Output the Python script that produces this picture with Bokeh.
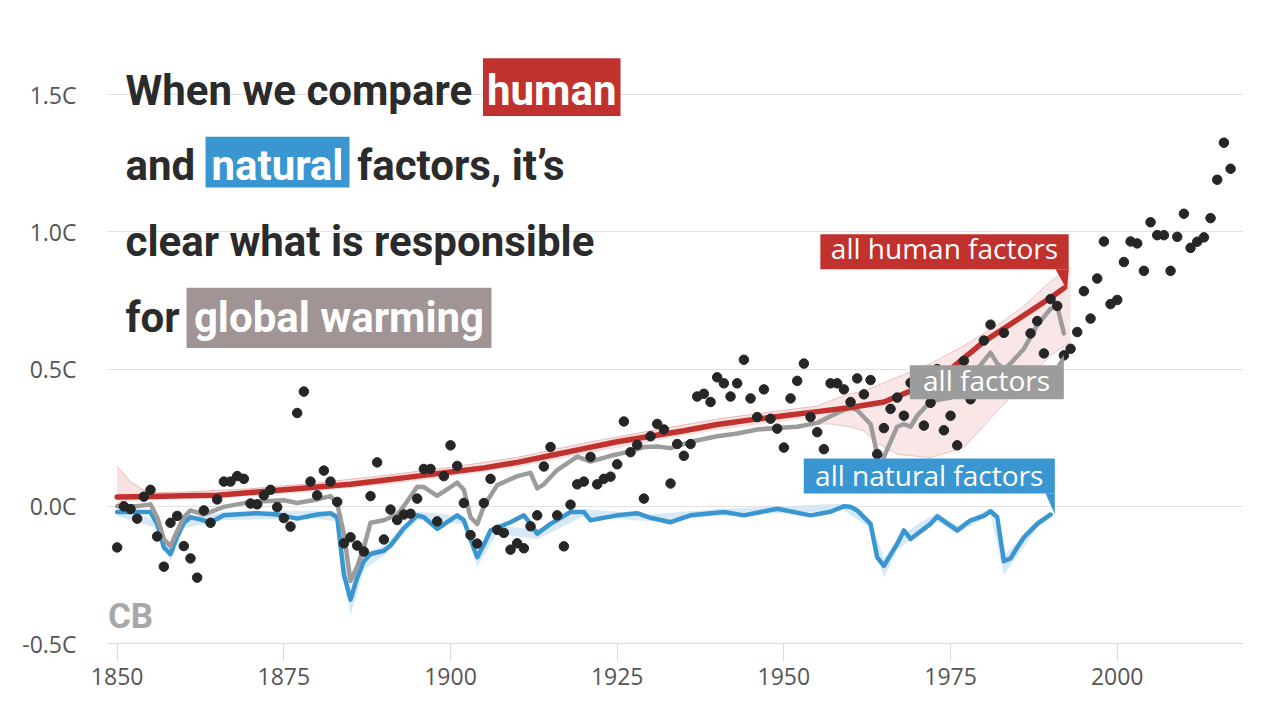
from bokeh.plotting import figure
from bokeh.models import Label, BoxAnnotation, PolyAnnotation, Range1d
from bokeh.embed import file_html
from bokeh.resources import INLINE

# ---------------- data ----------------
obs_years = list(range(1850, 2018))
obs_values = [
    -0.15, 0.00, -0.01, -0.045, 0.035, 0.06, -0.11, -0.22, -0.06, -0.035,      # 1850-1859
    -0.145, -0.19, -0.26, -0.015, -0.06, 0.025, 0.09, 0.09, 0.11, 0.10,        # 1860-1869
    0.01, 0.007, 0.04, 0.06, -0.003, -0.043, -0.074, 0.34, 0.418, 0.09,        # 1870-1879
    0.04, 0.13, 0.09, 0.016, -0.135, -0.113, -0.143, -0.165, 0.037, 0.16,      # 1880-1889
    -0.121, -0.012, -0.05, -0.03, -0.027, 0.028, 0.136, 0.136, -0.055, 0.11,   # 1890-1899
    0.222, 0.147, 0.012, -0.105, -0.136, 0.012, 0.10, -0.086, -0.097, -0.158,  # 1900-1909
    -0.135, -0.153, -0.073, -0.033, 0.145, 0.216, -0.033, -0.146, 0.006, 0.08, # 1910-1919
    0.09, 0.18, 0.08, 0.10, 0.108, 0.153, 0.309, 0.197, 0.224, 0.028,          # 1920-1929
    0.255, 0.30, 0.28, 0.083, 0.227, 0.184, 0.227, 0.40, 0.41, 0.38,           # 1930-1939
    0.47, 0.448, 0.40, 0.448, 0.534, 0.393, 0.325, 0.426, 0.319, 0.283,        # 1940-1949
    0.214, 0.393, 0.457, 0.52, 0.325, 0.27, 0.208, 0.448, 0.448, 0.426,        # 1950-1959
    0.38, 0.466, 0.408, 0.46, 0.19, 0.285, 0.355, 0.396, 0.33, 0.45,           # 1960-1969
    0.42, 0.294, 0.377, 0.50, 0.277, 0.33, 0.222, 0.53, 0.39, 0.47,            # 1970-1979
    0.604, 0.662, 0.44, 0.632, 0.47, 0.42, 0.49, 0.63, 0.675, 0.557,           # 1980-1989
    0.755, 0.73, 0.55, 0.574, 0.635, 0.784, 0.684, 0.83, 0.965, 0.737,         # 1990-1999
    0.752, 0.89, 0.965, 0.958, 0.858, 1.035, 0.988, 0.988, 0.858, 0.982,       # 2000-2009
    1.066, 0.942, 0.964, 0.98, 1.05, 1.19, 1.325, 1.23,                        # 2010-2017
]

human_years = [1850, 1855, 1860, 1865, 1870, 1875, 1880, 1885, 1890, 1895, 1900, 1905,
               1910, 1915, 1920, 1925, 1930, 1935, 1940, 1945, 1950, 1955, 1960, 1965,
               1970, 1975, 1980, 1985, 1990, 1992]
human_values = [0.034, 0.036, 0.038, 0.04, 0.05, 0.06, 0.07, 0.08, 0.095, 0.11, 0.125, 0.14,
                0.16, 0.185, 0.21, 0.235, 0.255, 0.275, 0.298, 0.315, 0.33, 0.345, 0.36, 0.38,
                0.43, 0.50, 0.60, 0.68, 0.76, 0.795]

human_band_years = [1850, 1852, 1854, 1856, 1860, 1870, 1880, 1890, 1900, 1910, 1920,
                    1930, 1940, 1950, 1955]
human_band_low = [0.005, 0.018, 0.022, 0.024, 0.026, 0.036, 0.055, 0.078, 0.108, 0.142, 0.19,
                  0.235, 0.278, 0.31, 0.325]
human_band_high = [0.145, 0.09, 0.058, 0.05, 0.052, 0.064, 0.085, 0.112, 0.142, 0.178, 0.23,
                   0.275, 0.318, 0.35, 0.365]

all_band_years = [1955, 1957, 1960, 1962, 1964, 1967, 1972, 1977, 1982, 1986, 1990, 1993]
all_band_low = [0.30, 0.30, 0.29, 0.275, 0.23, 0.19, 0.177, 0.214, 0.347, 0.45, 0.55, 0.60]
all_band_high = [0.365, 0.385, 0.41, 0.42, 0.44, 0.47, 0.52, 0.585, 0.66, 0.73, 0.82, 0.87]

all_years = [1850, 1853, 1855, 1856, 1857, 1858, 1859, 1860, 1861, 1863, 1866, 1870, 1875,
             1877, 1880, 1882, 1883, 1884, 1885, 1886, 1887, 1888, 1890, 1892, 1893, 1895,
             1896, 1898, 1900, 1901, 1902, 1903, 1904, 1905, 1907, 1910, 1912, 1913, 1914,
             1916, 1919, 1921, 1924, 1927, 1929, 1931, 1933, 1936, 1940, 1943, 1946, 1949,
             1952, 1955, 1958, 1960, 1961, 1963, 1964, 1965, 1967, 1968, 1969, 1970, 1972,
             1975, 1977, 1979, 1981, 1982, 1983, 1984, 1986, 1988, 1990, 1991, 1992]
all_values = [0.0, 0.0, 0.007, -0.04, -0.12, -0.145, -0.09, -0.04, -0.015, -0.03, -0.002,
              0.016, 0.022, 0.012, 0.025, 0.037, 0.01, -0.1, -0.272, -0.22, -0.15, -0.06,
              -0.051, -0.03, 0.0, 0.071, 0.07, 0.038, 0.07, 0.086, 0.06, -0.04, -0.065, 0.0,
              0.077, 0.11, 0.122, 0.065, 0.08, 0.132, 0.181, 0.163, 0.184, 0.2, 0.216, 0.218,
              0.212, 0.235, 0.255, 0.265, 0.28, 0.285, 0.29, 0.304, 0.34, 0.36, 0.35, 0.30,
              0.19, 0.18, 0.29, 0.30, 0.29, 0.33, 0.383, 0.396, 0.43, 0.50, 0.56, 0.52, 0.50,
              0.52, 0.574, 0.66, 0.72, 0.73, 0.63]

natural_years = [1850, 1855, 1856, 1857, 1858, 1859, 1860, 1861, 1862, 1864, 1866, 1871,
                 1874, 1877, 1880, 1882, 1883, 1884, 1885, 1886, 1887, 1888, 1890, 1891,
                 1893, 1895, 1896, 1898, 1901, 1902, 1903, 1904, 1905, 1906, 1909, 1911,
                 1912, 1913, 1915, 1918, 1920, 1921, 1925, 1928, 1930, 1933, 1936, 1941,
                 1944, 1949, 1954, 1957, 1959, 1960, 1961, 1963, 1964, 1965, 1967, 1968,
                 1969, 1972, 1973, 1976, 1978, 1980, 1981, 1982, 1983, 1984, 1985, 1986,
                 1988, 1990]
natural_values = [-0.021, -0.021, -0.064, -0.15, -0.174, -0.11, -0.06, -0.04, -0.045, -0.058,
                  -0.033, -0.025, -0.03, -0.045, -0.03, -0.025, -0.04, -0.248, -0.34, -0.26,
                  -0.2, -0.174, -0.162, -0.143, -0.08, -0.033, -0.04, -0.082, -0.033, -0.051,
                  -0.12, -0.185, -0.14, -0.088, -0.058, -0.033, -0.064, -0.1, -0.064, -0.021,
                  -0.021, -0.051, -0.033, -0.025, -0.042, -0.058, -0.033, -0.021, -0.033,
                  -0.009, -0.033, -0.02, 0.0, -0.002, -0.015, -0.064, -0.186, -0.217, -0.137,
                  -0.088, -0.119, -0.064, -0.037, -0.088, -0.051, -0.035, -0.018, -0.04, -0.2,
                  -0.19, -0.15, -0.113, -0.064, -0.03]

natural_band_years = [1850, 1856, 1858, 1860, 1866, 1880, 1883, 1885, 1887, 1890, 1895, 1902,
                      1904, 1907, 1913, 1920, 1930, 1940, 1950, 1959, 1963, 1965, 1967, 1970,
                      1973, 1976, 1981, 1983, 1985, 1988, 1990]
natural_band_low = [-0.035, -0.08, -0.20, -0.08, -0.05, -0.045, -0.055, -0.40, -0.23, -0.18,
                    -0.05, -0.065, -0.22, -0.10, -0.12, -0.035, -0.055, -0.035, -0.025, -0.015,
                    -0.08, -0.26, -0.16, -0.10, -0.055, -0.10, -0.03, -0.25, -0.18, -0.08, -0.04]
natural_band_high = [-0.01, -0.05, -0.155, -0.045, -0.02, -0.015, -0.025, -0.30, -0.17, -0.145,
                     -0.02, -0.035, -0.165, -0.07, -0.085, -0.01, -0.03, -0.01, 0.0, 0.01,
                     -0.05, -0.19, -0.12, -0.065, -0.025, -0.07, -0.005, -0.18, -0.13, -0.05,
                     -0.02]

x_ticks = [1850, 1875, 1900, 1925, 1950, 1975, 2000]
x_tick_labels = ["1850", "1875", "1900", "1925", "1950", "1975", "2000"]
y_ticks = [-0.5, 0.0, 0.5, 1.0, 1.5]
y_tick_labels = ["-0.5C", "0.0C", "0.5C", "1.0C", "1.5C"]

# ---------------- styles ----------------
RED = "#c1312d"
BLUE = "#3a96d0"
GRAY = "#9c9c9c"
TITLE_GRAY_BOX = "#a09494"
DARK = "#2b2b2b"
TITLE_FONT = "Roboto"
NOTE_FONT = "Open Sans"
PX = 1.0 / 274.4   # one pixel in data units (vertical)

p = figure(frame_width=1136, frame_height=590, title=None,
           x_range=Range1d(1848.55, 2018.94), y_range=Range1d(-0.5, 1.65),
           output_backend="svg", toolbar_location=None,
           min_border_left=107, min_border_right=20, min_border_top=53, min_border_bottom=50,
           outline_line_color=None, background_fill_color="white", border_fill_color="white")

p.xgrid.grid_line_color = None
p.ygrid.grid_line_color = "#e2e2e2"
p.ygrid.grid_line_width = 1
p.ygrid.ticker = y_ticks

p.xaxis.ticker = x_ticks
p.xaxis.major_label_overrides = {t: l for t, l in zip(x_ticks, x_tick_labels)}
p.xaxis.axis_line_color = "#dcdcdc"
p.xaxis.major_tick_line_color = "#dcdcdc"
p.xaxis.major_tick_out = 18
p.xaxis.major_tick_in = 0
p.xaxis.minor_tick_line_color = None
p.xaxis.major_label_standoff = 6
p.xaxis.major_label_text_font = NOTE_FONT
p.xaxis.major_label_text_font_size = "23px"
p.xaxis.major_label_text_color = "#555555"

p.yaxis.ticker = y_ticks
p.yaxis.major_label_overrides = {t: l for t, l in zip(y_ticks, y_tick_labels)}
p.yaxis.axis_line_color = None
p.yaxis.major_tick_line_color = None
p.yaxis.minor_tick_line_color = None
p.yaxis.major_label_standoff = 25
p.yaxis.major_label_text_font = NOTE_FONT
p.yaxis.major_label_text_font_size = "23px"
p.yaxis.major_label_text_color = "#555555"

# bands
p.varea(x=human_band_years, y1=human_band_low, y2=human_band_high, fill_color="#f7dede", fill_alpha=0.9)
p.line(human_band_years, human_band_high, line_color="#e9b9b9", line_width=1)
p.varea(x=all_band_years, y1=all_band_low, y2=all_band_high, fill_color="#f7dede", fill_alpha=0.75)
p.line(all_band_years, all_band_low, line_color="#ebc3c3", line_width=1)
p.line(all_band_years, all_band_high, line_color="#ebc3c3", line_width=1)
p.varea(x=natural_band_years, y1=natural_band_low, y2=natural_band_high, fill_color="#d3e6f5", fill_alpha=0.9)

# model lines
p.line(natural_years, natural_values, line_color=BLUE, line_width=4.5, line_join="round", line_cap="round")
p.line(all_years, all_values, line_color=GRAY, line_width=4.5, line_join="round", line_cap="round")
p.line(human_years, human_values, line_color=RED, line_width=5.5, line_join="round", line_cap="round")

# observations
p.scatter(obs_years, obs_values, size=9.5, fill_color="#262626", line_color="#262626")

# ---------------- title with highlighted words ----------------
TSIZE = "42px"
TSHIFT = 15 * PX

def tlabel(x, y, text, color=DARK, align="left"):
    p.add_layout(Label(x=x, y=y + TSHIFT, text=text, text_font=TITLE_FONT, text_font_size=TSIZE,
                       text_font_style="bold", text_color=color, text_align=align,
                       text_baseline="alphabetic"))

p.add_layout(BoxAnnotation(left=1904.87, right=1925.5, bottom=1.4227, top=1.633,
                           fill_color=RED, fill_alpha=1, line_color=None))
p.add_layout(BoxAnnotation(left=1863.25, right=1884.85, bottom=1.1614, top=1.3462,
                           fill_color=BLUE, fill_alpha=1, line_color=None))
p.add_layout(BoxAnnotation(left=1860.4, right=1906.14, bottom=0.577, top=0.796,
                           fill_color=TITLE_GRAY_BOX, fill_alpha=1, line_color=None))

tlabel(1851.25, 1.4613, "When we compare")
tlabel(1915.19, 1.4613, "human", color="white", align="center")
tlabel(1851.25, 1.1859, "and")
tlabel(1874.04, 1.1859, "natural", color="white", align="center")
tlabel(1886.0, 1.1859, "factors, it\u2019s")
tlabel(1851.25, 0.909, "clear what is responsible")
tlabel(1851.25, 0.632, "for")
tlabel(1883.27, 0.632, "global warming", color="white", align="center")

# ---------------- series callouts ----------------
NSHIFT = 11 * PX

def callout(left, right, bottom, top, tail_x, tail_y, color, text, tx, ty):
    p.add_layout(BoxAnnotation(left=left, right=right, bottom=bottom, top=top,
                               fill_color=color, fill_alpha=1, line_color=None))
    p.add_layout(PolyAnnotation(xs=tail_x, ys=tail_y, fill_color=color, fill_alpha=1, line_color=None))
    p.add_layout(Label(x=tx, y=ty + NSHIFT, text=text, text_font=NOTE_FONT, text_font_size="28px",
                       text_color="white", text_align="center", text_baseline="alphabetic"))

callout(1955.47, 1992.72, 0.864, 0.9916,
        [1990.74, 1992.72, 1992.49], [0.864, 0.864, 0.7886],
        RED, "all human factors", 1974.09, 0.9005)
callout(1968.89, 1991.99, 0.3903, 0.5142,
        [1990.89, 1991.99, 1991.99], [0.5142, 0.5142, 0.5517],
        GRAY, "all factors", 1980.4, 0.4205)
callout(1952.99, 1990.64, 0.0463, 0.1738,
        [1989.25, 1990.64, 1990.64], [0.0463, 0.0463, -0.0288],
        BLUE, "all natural factors", 1971.8, 0.0743)

# logo
p.add_layout(Label(x=1848.62, y=-0.4497 + 13 * PX, text="CB", text_font=TITLE_FONT, text_font_size="35px",
                   text_font_style="bold", text_color="#a8a8a8", text_baseline="alphabetic"))

open("out.html", "w").write(file_html(p, INLINE))
